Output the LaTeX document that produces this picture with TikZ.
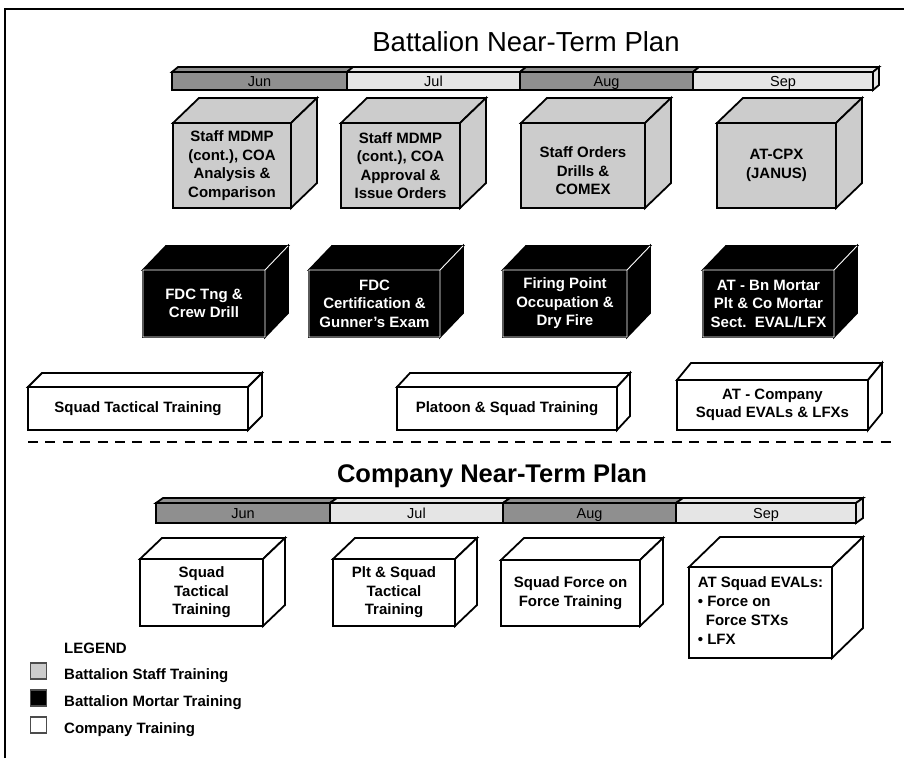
\documentclass[tikz,border=0pt]{standalone}
\usepackage{fontspec}
\setmainfont{Liberation Sans}
\definecolor{stafffill}{gray}{0.8}
\definecolor{bardark}{gray}{0.56}
\definecolor{barlight}{gray}{0.9}
\tikzset{
  grayface/.style={draw=black, fill=stafffill, line width=1.8pt},
  grayside/.style={draw=black, fill=stafffill, line width=1.8pt},
  grayinner/.style={draw=none},
  blackface/.style={draw=black, fill=black, text=white, line width=1.8pt},
  blackside/.style={draw=black, fill=black, line width=1.8pt},
  blackinner/.style={draw=white, line width=0.9pt},
  whiteface/.style={draw=black, fill=white, line width=1.8pt},
  whiteside/.style={draw=black, fill=white, line width=1.8pt},
  whiteinner/.style={draw=none},
  boxtext/.style={font=\bfseries\fontsize{15}{18.5}\selectfont, align=center, inner sep=0pt, outer sep=0pt},
  seg/.style={draw=black, line width=1.8pt, inner sep=0pt, outer sep=0pt, anchor=north west, text height=10.5pt, text depth=0pt, font=\fontsize{14.5}{14.5}\selectfont},
  segtop/.style={draw=black, line width=1.8pt},
  legbox/.style={draw=black!70, line width=1.2pt, minimum size=16pt, inner sep=0pt},
  legtext/.style={font=\bfseries\fontsize{15}{15}\selectfont, anchor=base west, inner sep=0pt},
}
% #1 name, #2 x1, #3 y1 (front top), #4 x2, #5 y2 (front bottom), #6 depth x, #7 depth y, #8 kind, #9 text
\newcommand\tcube[9]{%
  \node[#8face, boxtext, anchor=north west, minimum width={(#4-#2)*1pt}, minimum height={(#5-#3)*1pt}] (#1) at (#2,#3) {#9};
  \filldraw[#8side] (#1.north west) -- ++(#6,-#7) -- ++({#4-#2},0) -- (#1.north east) -- cycle;
  \filldraw[#8side] (#1.north east) -- ++(#6,-#7) -- ++(0,{#5-#3}) -- (#1.south east) -- cycle;
  \draw[#8inner] (#1.south west) rectangle (#1.north east) -- ++(#6,-#7);
}
% #1 prefix, #2 x0, #3 y top, #4 height, #5 dx, #6 dy, #7..#9 boundaries
\newcommand\timebar[9]{%
  \node[seg, fill=bardark, minimum width={(#7-#2)*1pt}, minimum height=#4pt] (#1jun) at (#2,#3) {Jun};
  \node[seg, fill=barlight, minimum width={(#8-#7)*1pt}, minimum height=#4pt] (#1jul) at (#7,#3) {Jul};
  \node[seg, fill=bardark, minimum width={(#9-#8)*1pt}, minimum height=#4pt] (#1aug) at (#8,#3) {Aug};
  \node[seg, fill=barlight, minimum width={(\barend-#9)*1pt}, minimum height=#4pt] (#1sep) at (#9,#3) {Sep};
  \filldraw[segtop, fill=bardark] (#1jun.north west) -- ++(#5,-#6) -- ++({#7-#2},0) -- (#1jun.north east) -- cycle;
  \filldraw[segtop, fill=barlight] (#1jul.north west) -- ++(#5,-#6) -- ++({#8-#7},0) -- (#1jul.north east) -- cycle;
  \filldraw[segtop, fill=bardark] (#1aug.north west) -- ++(#5,-#6) -- ++({#9-#8},0) -- (#1aug.north east) -- cycle;
  \filldraw[segtop, fill=barlight] (#1sep.north west) -- ++(#5,-#6) -- ++({\barend-#9},0) -- (#1sep.north east) -- cycle;
  \filldraw[segtop, fill=barlight] (#1sep.north east) -- ++(#5,-#6) -- ++(0,#4) -- (#1sep.south east) -- cycle;
}
\begin{document}
\begin{tikzpicture}[x=1pt,y=-1pt]
\useasboundingbox (0,0) rectangle (904,758);
% frame
\coordinate (fbl) at (5,758);
\coordinate (ftl) at (5,9);
\coordinate (ftr) at (904,9);
\draw[line width=2.5pt] (fbl) -- (ftl) -- (ftr);

% titles
\node[anchor=base, inner sep=0pt, font=\fontsize{27.5}{27.5}\selectfont] (btitle) at (526,51) {Battalion Near-Term Plan};
\node[anchor=base, inner sep=0pt, font=\bfseries\fontsize{25.5}{25.5}\selectfont] (ctitle) at (492,482) {Company Near-Term Plan};

% timelines
\def\barend{873}
\timebar{b}{172}{72}{18}{6}{5}{347}{520}{693}
\def\barend{856}
\timebar{c}{156}{503}{20}{7}{5}{330}{503}{676}

% staff training
\tcube{s1}{173}{123}{291}{208}{26}{25}{gray}{Staff MDMP\\(cont.), COA\\Analysis \&\\Comparison}
\tcube{s2}{341}{123}{460}{208}{26}{25}{gray}{Staff MDMP\\(cont.), COA\\Approval \&\\Issue Orders}
\tcube{s3}{521}{123}{645}{208}{26}{25}{gray}{\rule{0pt}{22pt}Staff Orders\\Drills \&\\COMEX}
\tcube{s4}{717}{123}{836}{208}{26}{25}{gray}{AT-CPX\\(JANUS)}

% mortar training
\tcube{m1}{143}{270}{265}{337}{23}{24}{black}{FDC Tng \&\\Crew Drill}
\tcube{m2}{309}{270}{440}{337}{23}{24}{black}{FDC\\Certification \&\\Gunner's Exam}
\tcube{m3}{503}{270}{627}{337}{23}{24}{black}{Firing Point\\Occupation \&\\Dry Fire}
\tcube{m4}{703}{270}{834}{337}{23}{24}{black}{AT - Bn Mortar\\Plt \& Co Mortar\\Sect.\ \ EVAL/LFX}

% company bars (battalion plan)
\tcube{c1}{28}{387}{248}{430}{14}{14}{white}{Squad Tactical Training}
\tcube{c2}{397}{387}{617}{430}{13}{14}{white}{Platoon \& Squad Training}
\tcube{c3}{677}{380}{868}{430}{14}{17}{white}{AT - Company\\Squad EVALs \& LFXs}

% separator
\coordinate (dl) at (28,442);
\coordinate (dr) at (893,442);
\draw[line width=2pt, dash pattern=on 10pt off 7.4pt] (dl) -- (dr);

% company plan boxes
\tcube{k1}{140}{559}{263}{626}{22}{21}{white}{Squad\\Tactical\\Training}
\tcube{k2}{333}{559}{455}{626}{22}{21}{white}{Plt \& Squad\\Tactical\\Training}
\tcube{k3}{501}{560}{640}{626}{23}{22}{white}{Squad Force on\\Force Training}
\tcube{k4}{689}{567}{832}{658}{31}{30}{white}{\begin{tabular}{@{}l@{}}AT Squad EVALs:\\[0.5pt]• Force on\\[0.5pt]\hspace{8pt}Force STXs\\[0.5pt]• LFX\end{tabular}}

% legend
\node[legtext] (legtitle) at (64,653) {LEGEND};
\node[legbox, fill=stafffill] (lg1) at (38.5,671) {};
\node[legbox, fill=black] (lg2) at (38.5,698) {};
\node[legbox, fill=white] (lg3) at (38.5,725) {};
\node[legtext] (lt1) at (64,679) {Battalion Staff Training};
\node[legtext] (lt2) at (64,706) {Battalion Mortar Training};
\node[legtext] (lt3) at (64,733) {Company Training};
\end{tikzpicture}
\end{document}
